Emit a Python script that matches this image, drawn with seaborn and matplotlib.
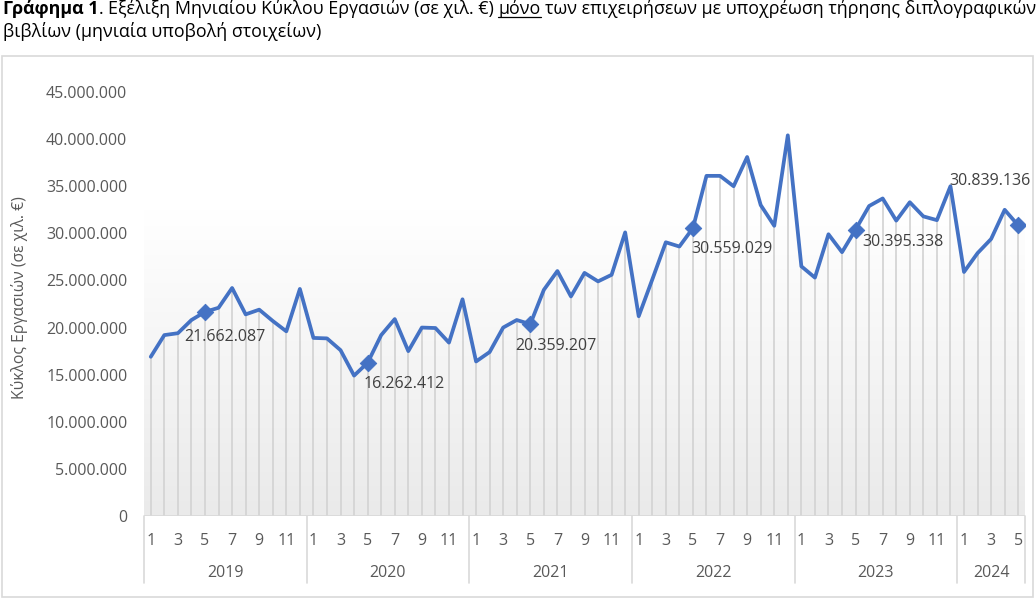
import matplotlib
matplotlib.use('Agg')
import numpy as np
import pandas as pd
import matplotlib.pyplot as plt
import seaborn as sns
from matplotlib.patches import Rectangle
from matplotlib.transforms import IdentityTransform, blended_transform_factory
from matplotlib.colors import LinearSegmentedColormap

# ---------------------------------------------------------------------
# Δεδομένα (τιμές σε χιλ. €, διαβασμένες από το γράφημα)
# ---------------------------------------------------------------------
years = [2019, 2020, 2021, 2022, 2023, 2024]
months_per_year = [12, 12, 12, 12, 12, 5]

turnover_2019 = [16.9e6, 19.2e6, 19.4e6, 20.8e6, 21662087, 22.1e6,
                 24.2e6, 21.4e6, 21.9e6, 20.7e6, 19.6e6, 24.1e6]
turnover_2020 = [18.9e6, 18.85e6, 17.6e6, 14.9e6, 16262412, 19.2e6,
                 20.9e6, 17.5e6, 20.0e6, 19.95e6, 18.4e6, 23.0e6]
turnover_2021 = [16.4e6, 17.4e6, 20.0e6, 20.8e6, 20359207, 24.0e6,
                 26.0e6, 23.3e6, 25.8e6, 24.9e6, 25.6e6, 30.1e6]
turnover_2022 = [21.2e6, 25.1e6, 29.05e6, 28.6e6, 30559029, 36.1e6,
                 36.1e6, 35.0e6, 38.1e6, 33.0e6, 30.8e6, 40.4e6]
turnover_2023 = [26.5e6, 25.3e6, 29.9e6, 28.0e6, 30395338, 32.9e6,
                 33.7e6, 31.35e6, 33.3e6, 31.8e6, 31.4e6, 35.0e6]
turnover_2024 = [25.9e6, 27.9e6, 29.4e6, 32.5e6, 30839136]

y_ticks = [0, 5e6, 10e6, 15e6, 20e6, 25e6, 30e6, 35e6, 40e6, 45e6]
labelled_month = 5  # ο Μάιος κάθε έτους έχει σημείο και ετικέτα

title_line1 = [
    ('Γράφημα 1', 'bold', False),
    ('.', 'normal', False),
    ('Εξέλιξη Μηνιαίου Κύκλου Εργασιών (σε χιλ. €)', 'normal', False),
    ('μόνο', 'normal', True),
    ('των επιχειρήσεων με υποχρέωση τήρησης διπλογραφικών', 'normal', False),
]
title_line2 = 'βιβλίων (μηνιαία υποβολή στοιχείων)'
y_label = 'Κύκλος Εργασιών (σε χιλ. €)'

# μετατόπιση ετικετών (px) σε σχέση με το σημείο: (dx, dy προς τα κάτω)
label_offsets = {2019: (20, 25), 2020: (37, 21), 2021: (26, 22),
                 2022: (39, 21), 2023: (47, 12), 2024: (-28, -44)}

# ---------------------------------------------------------------------
# DataFrame
# ---------------------------------------------------------------------
all_values = [turnover_2019, turnover_2020, turnover_2021,
              turnover_2022, turnover_2023, turnover_2024]
rows = []
for yr, vals in zip(years, all_values):
    for m, v in enumerate(vals, start=1):
        rows.append({'year': yr, 'month': m, 'value': v})
df = pd.DataFrame(rows)
df['idx'] = np.arange(len(df))

LINE_COLOR = '#4472C4'
TICK_COLOR = '#595959'
LABEL_COLOR = '#404040'
GRID_COLOR = '#d9d9d9'

sns.set_theme(style='white')
plt.rcParams['font.family'] = ['Open Sans', 'DejaVu Sans']

W, H = 1036, 600
fig = plt.figure(figsize=(W / 100, H / 100), dpi=100)
fig.patch.set_facecolor('white')

# πλαίσιο γραφήματος
fig.add_artist(Rectangle((2 / W, 3 / H), 1031 / W, 541 / H, transform=fig.transFigure,
                         fill=False, edgecolor=GRID_COLOR, lw=1.2))

ax = fig.add_axes([144 / W, 1 - 516 / H, (1025 - 144) / W, (516 - 92) / H])
ax.set_facecolor('none')

n = len(df)
x_min, x_max = -0.5, n - 0.5
y_max = 45e6

# βαθμωτό φόντο (λευκό πάνω, ανοιχτό γκρι κάτω)
cmap = LinearSegmentedColormap.from_list('bg', [(0, '#eaeaea'), (0.72, '#ffffff'), (1, '#ffffff')])
grad = np.linspace(1, 0, 256).reshape(-1, 1)
ax.imshow(grad, extent=[x_min, x_max, 0, y_max], aspect='auto', cmap=cmap,
          vmin=0, vmax=1, zorder=0, interpolation='bilinear')

# κατακόρυφες γραμμές από το 0 μέχρι την τιμή
ax.vlines(df['idx'], 0, df['value'], color='#d2d2d2', lw=1.2, zorder=1)

sns.lineplot(data=df, x='idx', y='value', ax=ax, color=LINE_COLOR, lw=2.7, zorder=3)

may = df[df['month'] == labelled_month]
sns.scatterplot(data=may, x='idx', y='value', ax=ax, marker='D', s=70,
                color=LINE_COLOR, edgecolor=LINE_COLOR, zorder=4)


def fmt(v):
    return f'{int(round(v)):,}'.replace(',', '.')


for _, r in may.iterrows():
    dx, dy = label_offsets[int(r['year'])]
    ax.annotate(fmt(r['value']), (r['idx'], r['value']), xytext=(dx * 0.72, -dy * 0.72),
                textcoords='offset points', ha='center', va='center',
                fontsize=11.5, color=LABEL_COLOR, zorder=5)

ax.set_xlim(x_min, x_max)
ax.set_ylim(0, y_max)
ax.set_yticks(y_ticks)
ax.set_yticklabels([fmt(t) for t in y_ticks])
ax.tick_params(axis='y', length=0, pad=12, labelsize=11.5, labelcolor=TICK_COLOR)
ax.set_ylabel(y_label, fontsize=11.3, color=TICK_COLOR)
ax.yaxis.set_label_coords((28 - 144) / (1025 - 144), (516 - 298) / 424)

ax.set_xticks(df['idx'])
ax.set_xticklabels([str(m) if m % 2 == 1 else '' for m in df['month']])
ax.tick_params(axis='x', length=0, pad=12, labelsize=11.5, labelcolor=TICK_COLOR)
ax.set_xlabel('')

for s in ax.spines.values():
    s.set_visible(False)
ax.axhline(0, color=GRID_COLOR, lw=1.2, zorder=2)

# δεύτερο επίπεδο άξονα: έτη και διαχωριστικά
trans = blended_transform_factory(ax.transData, ax.transAxes)
bounds = np.concatenate([[0], np.cumsum(months_per_year)]) - 0.5
for b in bounds:
    ax.plot([b, b], [0, -67 / 424], transform=trans, color=GRID_COLOR, lw=1.2, clip_on=False)
for yr, b0, b1 in zip(years, bounds[:-1], bounds[1:]):
    ax.text((b0 + b1) / 2, -57 / 424, str(yr), transform=trans, ha='center', va='center',
            fontsize=11.5, color=TICK_COLOR)

# ---------------------------------------------------------------------
# Τίτλος (κείμενο σε τμήματα για bold / υπογράμμιση)
# ---------------------------------------------------------------------
renderer = fig.canvas.get_renderer()


def text_width(s, size, weight='normal'):
    t = fig.text(0, 0, s, fontsize=size, fontweight=weight, transform=IdentityTransform())
    w = t.get_window_extent(renderer).width
    t.remove()
    return w


def line_width(size):
    space = text_width('x x', size) - text_width('xx', size)
    total = 0
    for i, (s, wgt, _) in enumerate(title_line1):
        total += text_width(s, size, wgt)
        if i > 0:
            total += space if s != '.' else 0
    return total, space


size = 13
w, space = line_width(size)
size = size * 1027 / w
w, space = line_width(size)

x = 3
base1 = H - 14
for i, (s, wgt, und) in enumerate(title_line1):
    if i > 0 and s != '.':
        x += space
    t = fig.text(x, base1, s, fontsize=size, fontweight=wgt, color='black',
                 va='baseline', transform=IdentityTransform())
    tw = t.get_window_extent(renderer).width
    if und:
        fig.add_artist(plt.Line2D([x, x + tw], [base1 - 3, base1 - 3], color='black',
                                  lw=0.9, transform=IdentityTransform()))
    x += tw

fig.text(3, H - 37, title_line2, fontsize=size, color='black', va='baseline',
         transform=IdentityTransform())

fig.savefig('out.png', dpi=100, facecolor='white')
